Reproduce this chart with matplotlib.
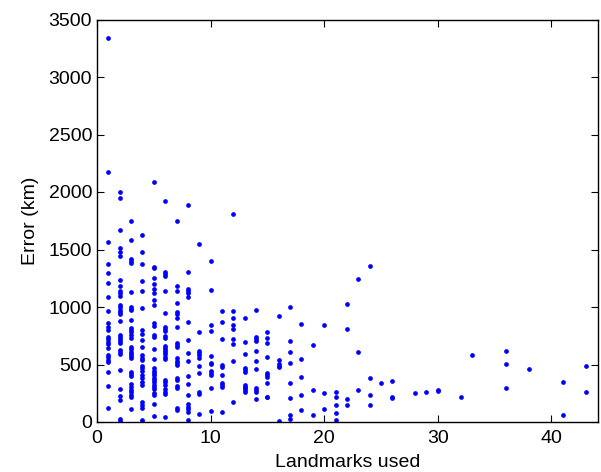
import matplotlib
matplotlib.use("Agg")
import matplotlib.pyplot as plt
import numpy as np

# Error (km) per number of landmarks used
err_01 = [3343, 2178, 1566, 1372, 1296, 1212, 1085, 968, 858, 823, 803, 742, 722, 699, 679, 641, 583, 563, 543, 522, 432, 310, 122]
err_02 = [1998, 1951, 1670, 1511, 1479, 1447, 1238, 1186, 1142, 1125, 1096, 1018, 998, 977, 960, 940, 879, 760, 742, 725, 705, 684, 629, 612, 594, 455, 287, 229, 194, 26, 9]
err_03 = [1746, 1583, 1415, 1398, 1381, 1131, 998, 983, 972, 885, 815, 797, 780, 757, 734, 650, 632, 612, 594, 577, 560, 438, 420, 400, 328, 302, 279, 258, 238, 217, 110]
err_04 = [1627, 1479, 1372, 1227, 1142, 988, 800, 765, 713, 650, 583, 560, 540, 490, 467, 444, 409, 380, 345, 322, 171, 145, 119, 20, 3]
err_05 = [2085, 1348, 1337, 1250, 1203, 1157, 1120, 1064, 1018, 858, 838, 757, 737, 635, 545, 467, 447, 426, 406, 386, 365, 345, 325, 307, 287, 255, 238, 160, 50]
err_06 = [1923, 1305, 1288, 1270, 1140, 946, 829, 809, 792, 748, 728, 664, 647, 626, 606, 589, 568, 548, 368, 345, 322, 284, 264, 241, 44]
err_07 = [1749, 1186, 1140, 1038, 960, 937, 902, 827, 690, 670, 652, 554, 534, 513, 496, 386, 363, 313, 293, 119, 104]
err_08 = [1891, 1308, 1157, 1142, 1125, 1085, 873, 710, 597, 531, 397, 328, 235, 154, 133, 113, 90, 17]
err_09 = [1549, 786, 620, 600, 580, 560, 490, 423, 258, 241, 73]
err_10 = [1403, 1148, 843, 788, 572, 515, 503, 447, 426, 412, 293, 96]
err_11 = [968, 867, 719, 496, 481, 406, 336, 322, 305, 90]
err_12 = [1810, 968, 907, 846, 806, 725, 675, 531, 177]
err_13 = [902, 695, 589, 473, 453, 438, 325, 308, 292, 275, 258]
err_14 = [971, 736, 722, 707, 618, 534, 464, 298, 278, 264, 200]
err_15 = [780, 734, 690, 565, 423, 406, 389, 340, 220, 215]
err_16 = [925, 542, 504, 490, 476, 6]
err_17 = [1000, 705, 612, 516, 340, 212, 57, 23]
err_18 = [850, 551, 389, 238, 103]
err_19 = [667, 278, 57]
err_20 = [844, 249, 113]
err_21 = [264, 220, 148, 75, 20]
err_22 = [1029, 809, 196, 145]
err_23 = [1244, 606, 278]
err_24 = [1355, 383, 235, 148]
err_25 = [342]
err_26 = [359, 220, 206]
err_28 = [249]
err_29 = [258]
err_30 = [278, 267]
err_32 = [217]
err_33 = [586]
err_36 = [618, 502, 296]
err_38 = [461]
err_41 = [351, 58]
err_43 = [484, 261]

landmarks = [1, 2, 3, 4, 5, 6, 7, 8, 9, 10, 11, 12, 13, 14, 15, 16, 17, 18, 19, 20,
             21, 22, 23, 24, 25, 26, 28, 29, 30, 32, 33, 36, 38, 41, 43]
errors = [err_01, err_02, err_03, err_04, err_05, err_06, err_07, err_08, err_09, err_10,
          err_11, err_12, err_13, err_14, err_15, err_16, err_17, err_18, err_19, err_20,
          err_21, err_22, err_23, err_24, err_25, err_26, err_28, err_29, err_30, err_32,
          err_33, err_36, err_38, err_41, err_43]

xticks = [0, 10, 20, 30, 40]
yticks = [0, 500, 1000, 1500, 2000, 2500, 3000, 3500]

xs = np.concatenate([[n] * len(e) for n, e in zip(landmarks, errors)])
ys = np.concatenate([e for e in errors])

plt.rcParams['font.family'] = ['Liberation Sans', 'DejaVu Sans']

fig = plt.figure(figsize=(6.01, 4.72), dpi=100)
ax = fig.add_axes([97 / 601, 1 - 422 / 472, (598 - 97) / 601, (422 - 19.5) / 472])
ax.plot(xs, ys, 'o', color='#0000ff', markersize=3.4, markeredgewidth=0)
ax.set_xlim(0, 44.1)
ax.set_ylim(0, 3500)
ax.set_xticks(xticks)
ax.set_yticks(yticks)
ax.tick_params(direction='in', top=True, right=True, labelsize=14, length=5, width=0.8)
ax.tick_params(axis='x', pad=6)
for s in ax.spines.values():
    s.set_linewidth(1.0)
ax.set_xlabel('Landmarks used', fontsize=14, labelpad=5)
ax.set_ylabel('Error (km)', fontsize=14, labelpad=7)
fig.savefig('out.png', dpi=100)
